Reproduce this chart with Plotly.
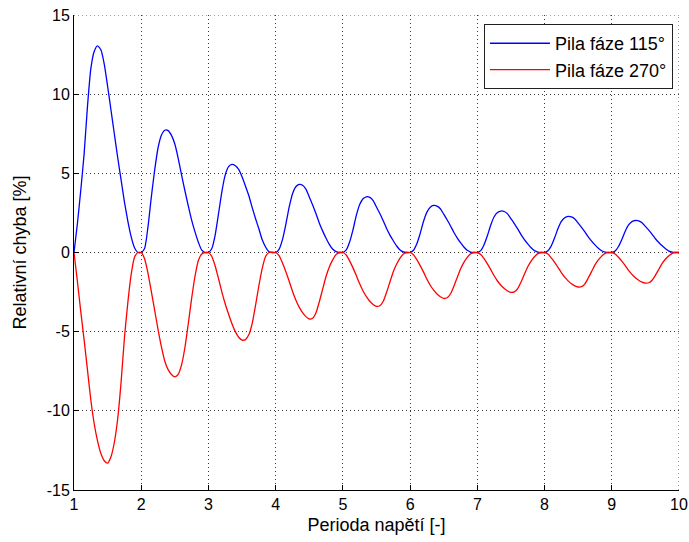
import plotly.graph_objects as go

# x samples (Perioda napětí)
perioda = [
    1.00, 1.05, 1.10, 1.15, 1.20, 1.25, 1.30, 1.35, 1.40, 1.45, 1.50, 1.55, 1.60, 1.65, 1.70, 1.75, 1.80, 1.85, 1.90, 1.95,
    2.00, 2.05, 2.10, 2.15, 2.20, 2.25, 2.30, 2.35, 2.40, 2.45, 2.50, 2.55, 2.60, 2.65, 2.70, 2.75, 2.80, 2.85, 2.90, 2.95,
    3.00, 3.05, 3.10, 3.15, 3.20, 3.25, 3.30, 3.35, 3.40, 3.45, 3.50, 3.55, 3.60, 3.65, 3.70, 3.75, 3.80, 3.85, 3.90, 3.95,
    4.00, 4.05, 4.10, 4.15, 4.20, 4.25, 4.30, 4.35, 4.40, 4.45, 4.50, 4.55, 4.60, 4.65, 4.70, 4.75, 4.80, 4.85, 4.90, 4.95,
    5.00, 5.05, 5.10, 5.15, 5.20, 5.25, 5.30, 5.35, 5.40, 5.45, 5.50, 5.55, 5.60, 5.65, 5.70, 5.75, 5.80, 5.85, 5.90, 5.95,
    6.00, 6.05, 6.10, 6.15, 6.20, 6.25, 6.30, 6.35, 6.40, 6.45, 6.50, 6.55, 6.60, 6.65, 6.70, 6.75, 6.80, 6.85, 6.90, 6.95,
    7.00, 7.05, 7.10, 7.15, 7.20, 7.25, 7.30, 7.35, 7.40, 7.45, 7.50, 7.55, 7.60, 7.65, 7.70, 7.75, 7.80, 7.85, 7.90, 7.95,
    8.00, 8.05, 8.10, 8.15, 8.20, 8.25, 8.30, 8.35, 8.40, 8.45, 8.50, 8.55, 8.60, 8.65, 8.70, 8.75, 8.80, 8.85, 8.90, 8.95,
    9.00, 9.05, 9.10, 9.15, 9.20, 9.25, 9.30, 9.35, 9.40, 9.45, 9.50, 9.55, 9.60, 9.65, 9.70, 9.75, 9.80, 9.85, 9.90, 9.95,
    10.00,
]

# Relativní chyba [%] - Pila fáze 115°
chyba_115 = [
    0, 1.8, 3.9, 6.2, 9.2, 11.6, 12.7, 13.05, 12.8, 11.9, 10.5, 9.0, 7.5, 6.0, 4.6, 3.2, 2.0, 1.0, 0.3, 0,
    0, 0.25, 1.6, 3.5, 5.2, 6.6, 7.4, 7.72, 7.7, 7.4, 6.85, 5.95, 4.9, 3.9, 2.95, 2.05, 1.3, 0.65, 0.15, 0,
    0, 0.25, 1.1, 2.45, 3.85, 4.9, 5.42, 5.56, 5.48, 5.25, 4.78, 4.2, 3.6, 2.85, 2.15, 1.5, 0.8, 0.35, 0.05, 0,
    0, 0.2, 0.8, 1.75, 2.85, 3.7, 4.15, 4.3, 4.25, 4.0, 3.5, 3.0, 2.45, 1.85, 1.35, 0.9, 0.5, 0.2, 0.05, 0,
    0, 0.16, 0.66, 1.43, 2.34, 3.03, 3.4, 3.52, 3.48, 3.28, 2.87, 2.46, 2.0, 1.52, 1.1, 0.74, 0.41, 0.16, 0.04, 0,
    0, 0.14, 0.55, 1.2, 1.97, 2.55, 2.86, 2.97, 2.93, 2.76, 2.42, 2.07, 1.69, 1.28, 0.93, 0.62, 0.35, 0.14, 0.03, 0,
    0, 0.12, 0.49, 1.07, 1.74, 2.26, 2.53, 2.62, 2.59, 2.44, 2.14, 1.83, 1.49, 1.13, 0.82, 0.55, 0.3, 0.12, 0.03, 0,
    0, 0.11, 0.42, 0.93, 1.51, 1.96, 2.2, 2.28, 2.25, 2.12, 1.86, 1.59, 1.3, 0.98, 0.72, 0.48, 0.27, 0.11, 0.03, 0,
    0, 0.09, 0.38, 0.82, 1.34, 1.74, 1.95, 2.02, 2.0, 1.88, 1.65, 1.41, 1.15, 0.87, 0.63, 0.42, 0.24, 0.09, 0.02, 0,
    0,
]

# Relativní chyba [%] - Pila fáze 270°
chyba_270 = [
    0, -1.8, -3.7, -5.5, -7.4, -9.3, -10.8, -11.9, -12.7, -13.15, -13.3, -12.9, -12.0, -10.5, -8.2, -5.4, -3.2, -1.4, -0.3, 0,
    0, -0.4, -1.3, -2.45, -3.65, -4.85, -5.95, -6.85, -7.4, -7.7, -7.85, -7.7, -7.1, -6.0, -4.5, -2.9, -1.5, -0.5, -0.1, 0,
    0, -0.25, -0.85, -1.65, -2.5, -3.25, -3.9, -4.5, -5.0, -5.35, -5.53, -5.5, -5.2, -4.5, -3.35, -2.1, -1.0, -0.25, 0, 0,
    0, -0.2, -0.65, -1.2, -1.8, -2.45, -3.0, -3.45, -3.8, -4.05, -4.2, -4.15, -3.8, -3.1, -2.3, -1.5, -0.9, -0.45, -0.12, 0,
    0, -0.16, -0.53, -0.97, -1.46, -1.98, -2.43, -2.79, -3.08, -3.28, -3.4, -3.36, -3.08, -2.51, -1.86, -1.22, -0.73, -0.36, -0.1, 0,
    0, -0.14, -0.45, -0.83, -1.24, -1.69, -2.07, -2.38, -2.62, -2.79, -2.9, -2.86, -2.62, -2.14, -1.59, -1.04, -0.62, -0.31, -0.08, 0,
    0, -0.12, -0.39, -0.72, -1.08, -1.47, -1.8, -2.07, -2.28, -2.43, -2.52, -2.49, -2.28, -1.86, -1.38, -0.9, -0.54, -0.27, -0.07, 0,
    0, -0.1, -0.34, -0.62, -0.94, -1.27, -1.56, -1.79, -1.98, -2.11, -2.18, -2.16, -1.98, -1.61, -1.2, -0.78, -0.47, -0.23, -0.06, 0,
    0, -0.09, -0.3, -0.55, -0.83, -1.13, -1.38, -1.59, -1.75, -1.87, -1.93, -1.91, -1.75, -1.43, -1.06, -0.69, -0.41, -0.21, -0.05, 0,
    0,
]

x_ticks = [1, 2, 3, 4, 5, 6, 7, 8, 9, 10]
y_ticks = [-15, -10, -5, 0, 5, 10, 15]

FONT = "Liberation Sans, Arial, sans-serif"
GRID_COLOR = "#3a3a3a"
GRID_DASH = "1px,3px"

fig = go.Figure()
fig.add_trace(go.Scatter(
    x=perioda, y=chyba_115, mode="lines", name="Pila fáze 115°",
    legendgroup="a",
    line=dict(color="#0000ff", width=1.3, shape="spline", smoothing=0.6),
))
fig.add_trace(go.Scatter(
    x=perioda, y=chyba_270, mode="lines", name="Pila fáze 270°",
    legendgroup="b",
    line=dict(color="#ff0000", width=1.3, shape="spline", smoothing=0.6),
))

grid_style = dict(showgrid=True, gridcolor=GRID_COLOR, gridwidth=1, griddash=GRID_DASH)

# grid lines on the open edges of the axes (no box): x = 10 and y = 15
fig.add_shape(type="line", xref="x", yref="paper", x0=x_ticks[-1], x1=x_ticks[-1], y0=0, y1=1,
              line=dict(color=GRID_COLOR, width=1, dash=GRID_DASH), layer="below")
fig.add_shape(type="line", xref="paper", yref="y", x0=0, x1=1, y0=y_ticks[-1], y1=y_ticks[-1],
              line=dict(color=GRID_COLOR, width=1, dash=GRID_DASH), layer="below")

fig.update_layout(
    width=689, height=542,
    margin=dict(l=74, r=10, t=15, b=52),
    paper_bgcolor="white", plot_bgcolor="white",
    font=dict(family=FONT, size=16, color="black"),
    showlegend=True,
    legend=dict(
        x=0.990, y=0.981, xanchor="right", yanchor="top",
        bgcolor="white", bordercolor="#202020", borderwidth=1,
        font=dict(family=FONT, size=18, color="black"),
        tracegroupgap=0, itemwidth=60,
    ),
    xaxis=dict(
        range=[1, 10], tickvals=x_ticks, ticktext=[str(v) for v in x_ticks],
        showline=True, linecolor="black", linewidth=1, mirror=False,
        ticks="inside", ticklen=5, tickcolor="black", tickwidth=1,
        ticklabeloverflow="allow", ticklabelstandoff=0,
        tickfont=dict(size=16),
        zeroline=False,
        title=dict(text="Perioda napětí [-]", standoff=6, font=dict(size=18)),
        automargin=False,
        **grid_style,
    ),
    yaxis=dict(
        range=[-15, 15], tickvals=y_ticks, ticktext=[str(v) for v in y_ticks],
        showline=True, linecolor="black", linewidth=1, mirror=False,
        ticks="inside", ticklen=5, tickcolor="black", tickwidth=1,
        ticklabelstandoff=0, ticklabeloverflow="allow",
        tickfont=dict(size=16),
        zeroline=False,
        title=dict(text="Relativní chyba [%]", standoff=15, font=dict(size=18)),
        automargin=False,
        **grid_style,
    ),
)

fig.write_html(
    "out.html",
    config={"displayModeBar": False},
    post_script="document.body.style.margin='0';document.body.style.overflow='hidden';",
)
